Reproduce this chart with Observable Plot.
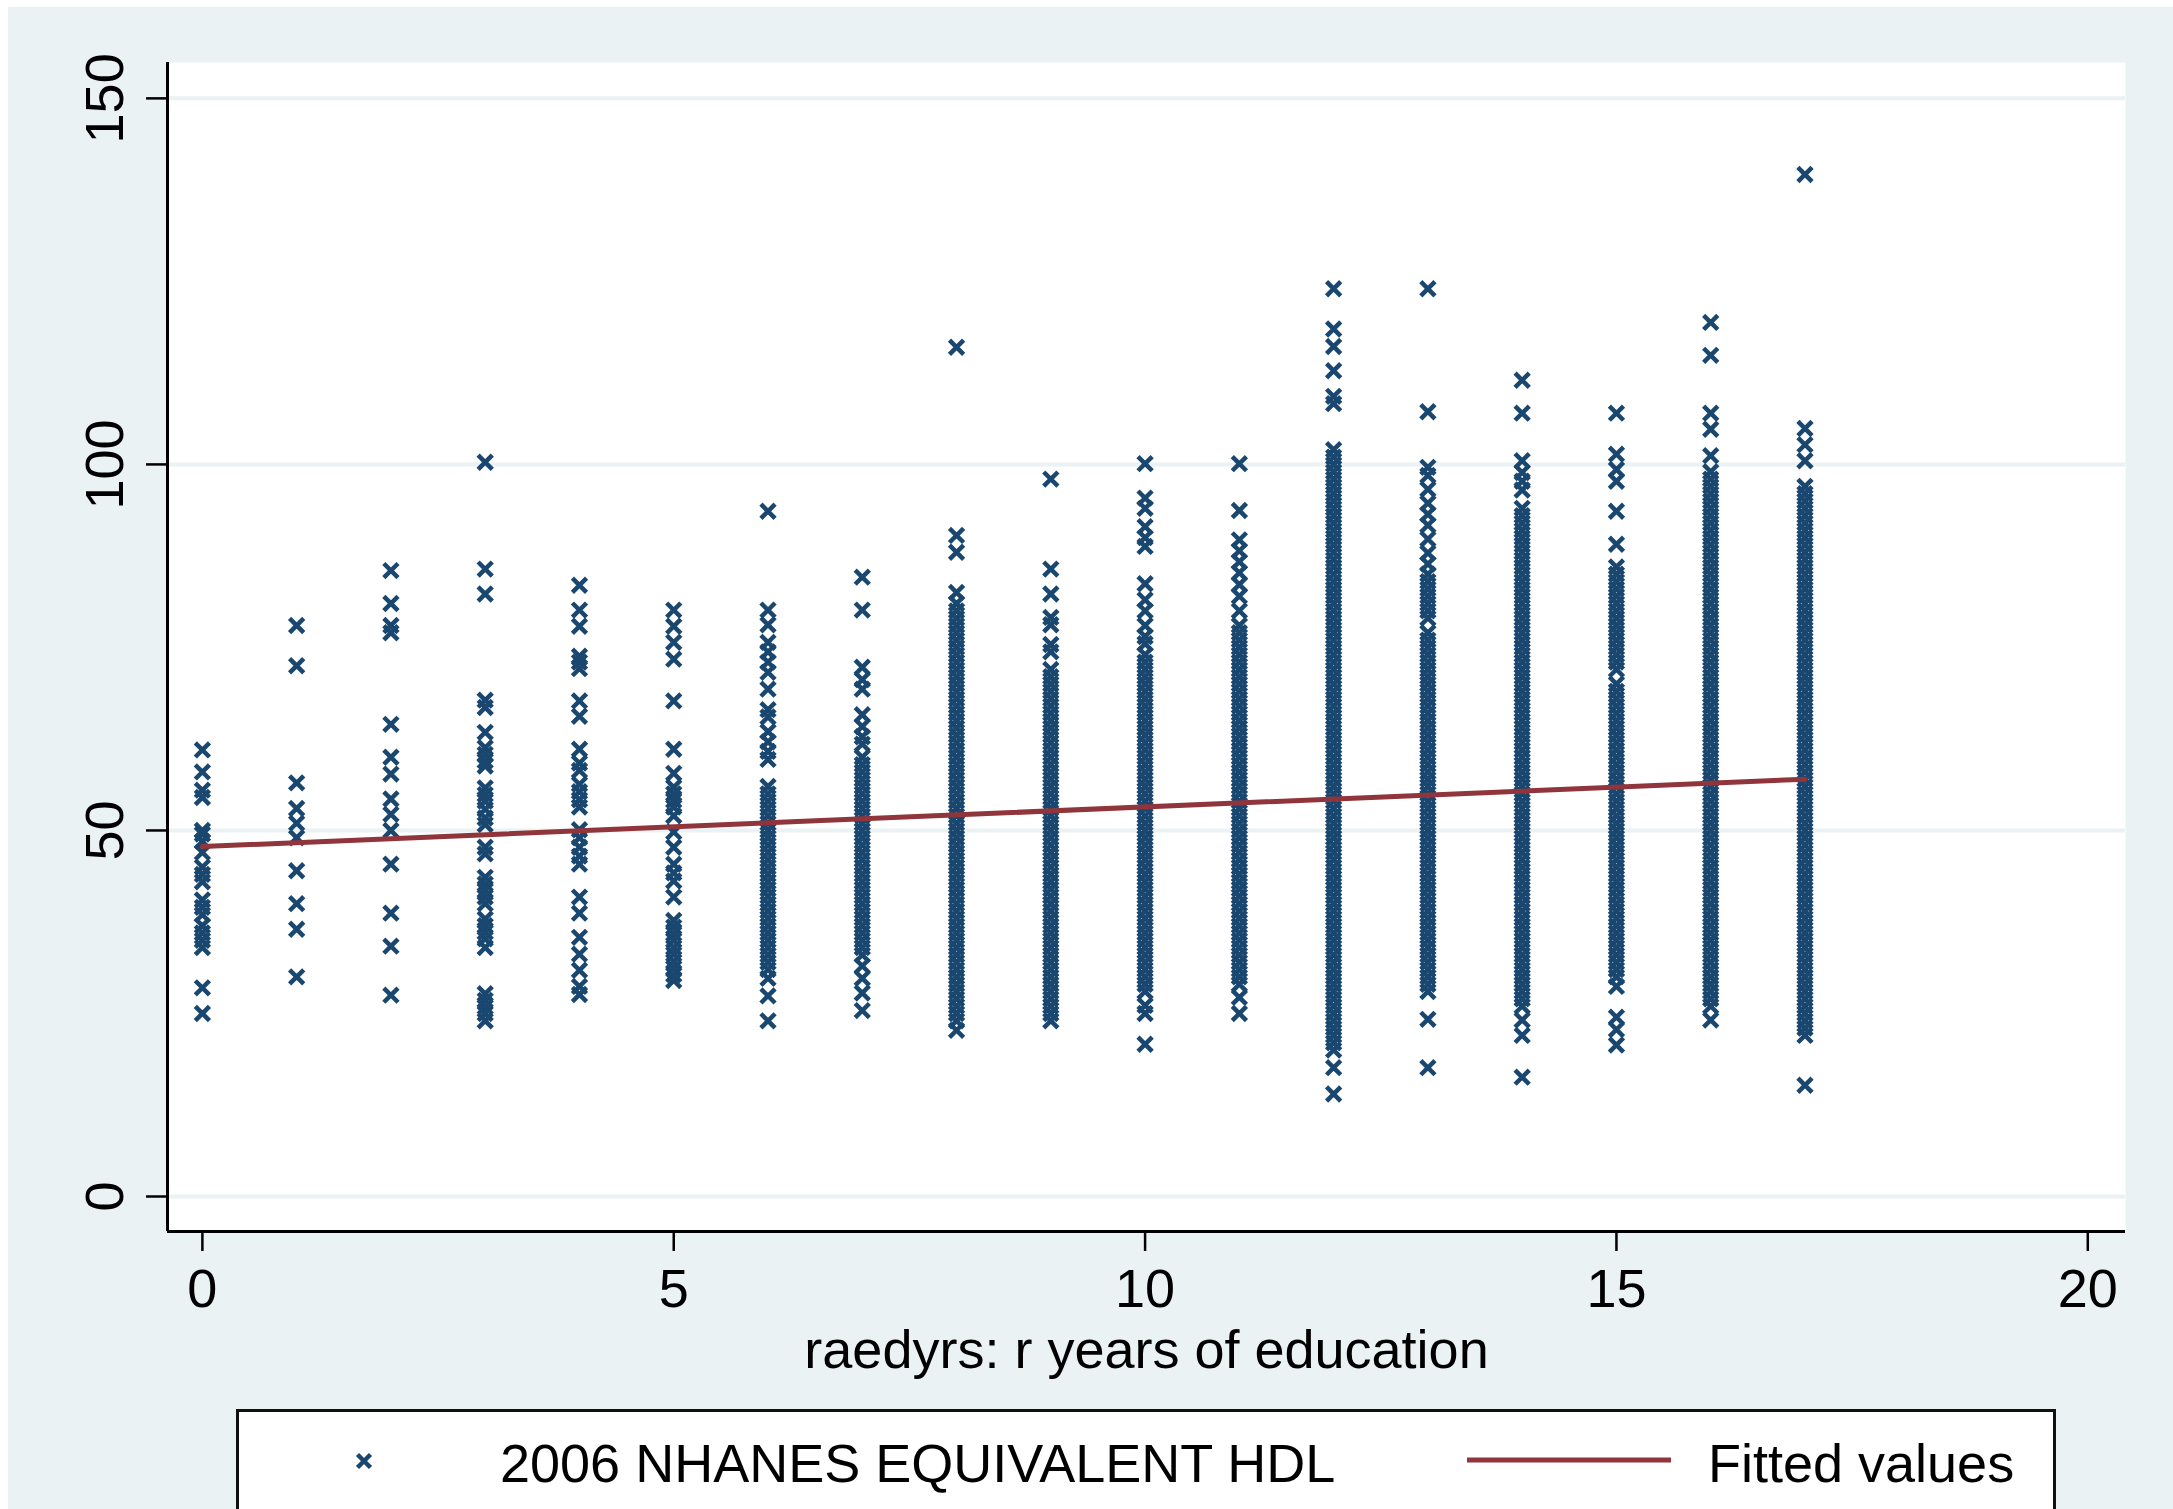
<!DOCTYPE html>
<html>
<head>
<meta charset="utf-8">
<script src="https://cdn.jsdelivr.net/npm/d3@7"></script>
<script src="https://cdn.jsdelivr.net/npm/@observablehq/plot@0.6"></script>
<style>
  html, body { margin: 0; padding: 0; background: #ffffff; width: 2173px; height: 1509px; overflow: hidden;
    font-family: "Liberation Sans", Arial, Helvetica, sans-serif; }
  #bg { position: absolute; left: 8px; top: 7px; right: 0; bottom: 0; background: #EAF2F3; }
  #chart { position: absolute; left: 0; top: 0; }
  #legend { position: absolute; left: 0; top: 0; pointer-events: none; }
</style>
</head>
<body>
<div id="bg"></div>
<div id="chart"></div>
<svg id="legend" width="2173" height="1509"></svg>
<script>
// ---- data ----
const educationYears = [0, 1, 2, 3, 4, 5, 6, 7, 8, 9, 10, 11, 12, 13, 14, 15, 16, 17];

const hdlEdu0 = [61, 58, 55.5, 54.5, 50, 49.5, 48.5, 47, 45, 44, 43, 40.5, 39.5, 38.5, 37, 36, 35, 34, 28.5, 25];
const hdlEdu1 = [78, 72.5, 56.5, 53, 51, 49, 44.5, 40, 36.5, 30];
const hdlEdu2 = [85.5, 81, 78, 77, 64.5, 60, 57.7, 54.3, 52.2, 50, 45.4, 38.7, 34.2, 27.5];
const hdlEdu3 = [100.3, 85.7, 82.3, 67.8, 66.8, 63.4, 61.3, 60.4, 59.5, 58.8, 55.8, 54.9, 54, 52.9, 51.7, 50.8,
  47.7, 46.8, 43.6, 42.7, 41.8, 40.9, 40, 37.9, 37, 36.1, 35.2, 34, 27.7, 26.8, 25.9, 25, 24];
const hdlEdu4 = [83.5, 80.1, 77.9, 73.8, 73, 72.1, 67.7, 65.6, 61.1, 59.2, 58.2, 56.3, 55.3, 54.2, 53.2, 50.1,
  49, 47.7, 46.5, 45.4, 40.9, 38.7, 35.4, 33.1, 30.9, 28.7, 27.6];
const hdlEdu5 = [80.1, 77.9, 75.7, 73.4, 67.7, 61.1, 57.8, 55.9, 55, 54.1, 53.2, 52, 49.8, 47.7, 45.4, 44.2,
  43.1, 40.9, 37.7, 36.8, 35.9, 35, 34, 33.1, 32.1, 31.2, 30.3, 29.5];
const hdlEdu6 = [93.6, 80.1, 78.1, 75.7, 74.4, 73, 71.6, 69.3, 66.5, 65.5, 63.5, 62.1, 60.8, 59.7,
  56, 55, 54, 53, 52, 51, 50, 49, 48, 47, 46, 45, 44, 43, 42, 41, 40, 39, 38, 37, 36, 35, 34, 33, 32, 31,
  29.8, 27.4, 24];
const hdlEdu7 = [84.6, 80.1, 72.3, 70.6, 69.3, 65.8, 64.2, 62.8, 61.8,
  60, 59, 58, 57, 56, 55, 54, 53, 52, 51, 50, 49, 48, 47, 46, 45, 44, 43, 42, 41, 40, 39, 38, 37, 36, 35, 34, 33,
  31.5, 29.8, 27.8, 25.4];
const hdlEdu8 = [116, 90.3, 88, 82.5,
  81, 80, 79, 78, 77, 76, 75, 74, 73, 72, 71, 70, 69, 68, 67, 66, 65, 64, 63, 62, 61, 60, 59, 58, 57, 56, 55,
  54, 53, 52, 51, 50, 49, 48, 47, 46, 45, 44, 43, 42, 41, 40, 39, 38, 37, 36, 35, 34, 33, 32, 31, 30, 29, 28,
  27, 26, 25, 24, 22.7];
const hdlEdu9 = [98, 85.7, 82.3, 79.1, 78.1, 75.4, 74.4,
  72, 71, 70, 69, 68, 67, 66, 65, 64, 63, 62, 61, 60, 59, 58, 57, 56, 55, 54, 53, 52, 51, 50, 49, 48, 47, 46,
  45, 44, 43, 42, 41, 40, 39, 38, 37, 36, 35, 34, 33, 32, 31, 30, 29, 28, 27, 26, 25, 24];
const hdlEdu10 = [100.1, 95.4, 94, 91.5, 90, 88.8, 83.7, 81.5, 80, 78, 76.5, 75.5,
  74, 73, 72, 71, 70, 69, 68, 67, 66, 65, 64, 63, 62, 61, 60, 59, 58, 57, 56, 55, 54, 53, 52, 51, 50, 49, 48,
  47, 46, 45, 44, 43, 42, 41, 40, 39, 38, 37, 36, 35, 34, 33, 32, 31, 30, 29, 28,
  26.1, 25, 20.8];
const hdlEdu11 = [100.1, 93.7, 89.7, 88.2, 86.7, 85.2, 83.6, 82, 80,
  78, 77, 76, 75, 74, 73, 72, 71, 70, 69, 68, 67, 66, 65, 64, 63, 62, 61, 60, 59, 58, 57, 56, 55, 54, 53, 52,
  51, 50, 49, 48, 47, 46, 45, 44, 43, 42, 41, 40, 39, 38, 37, 36, 35, 34, 33, 32, 31, 30, 29,
  27.2, 25];
const hdlEdu12 = [124, 118.5, 116.1, 112.8, 109.3, 108.3,
  102, 101, 100, 99, 98, 97, 96, 95, 94, 93, 92, 91, 90, 89, 88, 87, 86, 85, 84, 83, 82, 81, 80, 79, 78, 77,
  76, 75, 74, 73, 72, 71, 70, 69, 68, 67, 66, 65, 64, 63, 62, 61, 60, 59, 58, 57, 56, 55, 54, 53, 52, 51, 50,
  49, 48, 47, 46, 45, 44, 43, 42, 41, 40, 39, 38, 37, 36, 35, 34, 33, 32, 31, 30, 29, 28, 27, 26, 25, 24, 23,
  22, 21, 20, 17.6, 14];
const hdlEdu13 = [124, 107.2, 99.6, 98.5, 96.6, 94.7, 93.2, 91.7, 89.8, 87.9, 86.4,
  85, 84, 83, 82, 81, 80, 79,
  77, 76, 75, 74, 73, 72, 71, 70, 69, 68, 67, 66, 65, 64, 63, 62, 61, 60, 59, 58, 57, 56, 55, 54, 53, 52, 51,
  50, 49, 48, 47, 46, 45, 44, 43, 42, 41, 40, 39, 38, 37, 36, 35, 34, 33, 32, 31, 30, 29, 28,
  24.2, 17.6];
const hdlEdu14 = [111.5, 107, 100.5, 98.9, 97.7, 96.5,
  94, 93, 92, 91, 90, 89, 88, 87, 86, 85, 84, 83, 82, 81, 80, 79, 78, 77, 76, 75, 74, 73, 72, 71, 70, 69, 68,
  67, 66, 65, 64, 63, 62, 61, 60, 59, 58, 57, 56, 55, 54, 53, 52, 51, 50, 49, 48, 47, 46, 45, 44, 43, 42, 41,
  40, 39, 38, 37, 36, 35, 34, 33, 32, 31, 30, 29, 28, 27, 26,
  24.1, 22, 16.3];
const hdlEdu15 = [107, 101.4, 99.3, 97.7, 93.6, 89.1,
  86, 85, 84, 83, 82, 81, 80, 79, 78, 77, 76, 75, 74, 73, 72, 70, 69, 68, 67, 66, 65, 64, 63, 62, 61, 60, 59,
  58, 57, 56, 55, 54, 53, 52, 51, 50, 49, 48, 47, 46, 45, 44, 43, 42, 41, 40, 39, 38, 37, 36, 35, 34, 33, 32,
  31, 30, 28.7, 24.5, 22.8, 20.7];
const hdlEdu16 = [119.4, 114.9, 107, 104.8, 101.2,
  99, 98, 97, 96, 95, 94, 93, 92, 91, 90, 89, 88, 87, 86, 85, 84, 83, 82, 81, 80, 79, 78, 77, 76, 75, 74, 73,
  72, 71, 70, 69, 68, 67, 66, 65, 64, 63, 62, 61, 60, 59, 58, 57, 56, 55, 54, 53, 52, 51, 50, 49, 48, 47, 46,
  45, 44, 43, 42, 41, 40, 39, 38, 37, 36, 35, 34, 33, 32, 31, 30, 29, 28, 27, 26,
  24.1];
const hdlEdu17 = [139.6, 104.9, 102.7, 100.5,
  97, 96, 95, 94, 93, 92, 91, 90, 89, 88, 87, 86, 85, 84, 83, 82, 81, 80, 79, 78, 77, 76, 75, 74, 73, 72, 71,
  70, 69, 68, 67, 66, 65, 64, 63, 62, 61, 60, 59, 58, 57, 56, 55, 54, 53, 52, 51, 50, 49, 48, 47, 46, 45, 44,
  43, 42, 41, 40, 39, 38, 37, 36, 35, 34, 33, 32, 31, 30, 29, 28, 27, 26, 25, 24, 23, 22,
  15.2];

// fitted regression line, end points
const fitEducation = [0, 17];
const fitHdl = [47.8, 57.0];

const xTicks = [0, 5, 10, 15, 20];
const yTicks = [0, 50, 100, 150];
const xDomain = [-0.37, 20.4];
const yDomain = [-4.78, 154.9];
const xTitle = "raedyrs: r years of education";
const seriesLabels = ["2006 NHANES EQUIVALENT HDL", "Fitted values"];

// ---- colours ----
const navy = "#1A476F";
const maroon = "#90353B";
const bgColor = "#EAF2F3";
const FONT = '"Liberation Sans", Arial, Helvetica, sans-serif';

const columns = [hdlEdu0, hdlEdu1, hdlEdu2, hdlEdu3, hdlEdu4, hdlEdu5, hdlEdu6, hdlEdu7, hdlEdu8,
  hdlEdu9, hdlEdu10, hdlEdu11, hdlEdu12, hdlEdu13, hdlEdu14, hdlEdu15, hdlEdu16, hdlEdu17];
const points = columns.flatMap((vals, i) => vals.map(v => ({edu: educationYears[i], hdl: v})));
const fit = fitEducation.map((e, i) => ({edu: e, hdl: fitHdl[i]}));

const chart = Plot.plot({
  width: 2173,
  height: 1400,
  marginLeft: 167,
  marginRight: 48,
  marginTop: 62,
  marginBottom: 169,
  style: {background: "transparent", fontFamily: FONT, fontSize: "54px", color: "#000", overflow: "visible", maxWidth: "none"},
  x: {domain: xDomain},
  y: {domain: yDomain},
  marks: [
    Plot.frame({fill: "white", stroke: "none"}),
    Plot.ruleY(yTicks, {y: d => d, stroke: bgColor, strokeWidth: 4}),
    Plot.dot(points, {x: "edu", y: "hdl", symbol: "times", r: 6.5, stroke: navy, strokeWidth: 4.5}),
    Plot.line(fit, {x: "edu", y: "hdl", stroke: maroon, strokeWidth: 5}),
    Plot.ruleX([xDomain[0]], {stroke: "#000", strokeWidth: 3}),
    Plot.ruleY([yDomain[0]], {stroke: "#000", strokeWidth: 3}),
    Plot.axisX({ticks: xTicks, tickSize: 20, tickPadding: 17, fontSize: 54, label: null, stroke: "#000", strokeWidth: 2.5}),
    Plot.axisY({ticks: yTicks, tickSize: 21, tickFormat: () => "", label: null, stroke: "#000", strokeWidth: 2.5}),
    Plot.text(yTicks, {y: d => d, text: d => String(d), frameAnchor: "left", textAnchor: "middle", lineAnchor: "middle",
      dx: -62, rotate: -90, fontSize: 54, fill: "#000"}),
    Plot.text([xTitle], {frameAnchor: "bottom", textAnchor: "middle", lineAnchor: "middle", dy: 119, fontSize: 54, fill: "#000"})
  ]
});
document.getElementById("chart").appendChild(chart);

// ---- legend (below the plot) ----
const lg = d3.select("#legend");
lg.append("rect").attr("x", 237.5).attr("y", 1410.5).attr("width", 1817).attr("height", 200)
  .attr("fill", "#fff").attr("stroke", "#111").attr("stroke-width", 3);
const mh = 6.5;
lg.append("path").attr("d", `M${364 - mh},${1461 - mh}L${364 + mh},${1461 + mh}M${364 - mh},${1461 + mh}L${364 + mh},${1461 - mh}`)
  .attr("stroke", navy).attr("stroke-width", 4.5).attr("fill", "none");
lg.append("text").attr("x", 500).attr("y", 1482).attr("font-family", FONT).attr("font-size", 54)
  .attr("fill", "#000").text(seriesLabels[0]);
lg.append("line").attr("x1", 1467).attr("x2", 1671).attr("y1", 1460).attr("y2", 1460)
  .attr("stroke", maroon).attr("stroke-width", 5);
lg.append("text").attr("x", 1708).attr("y", 1482).attr("font-family", FONT).attr("font-size", 54)
  .attr("fill", "#000").text(seriesLabels[1]);
</script>
</body>
</html>
